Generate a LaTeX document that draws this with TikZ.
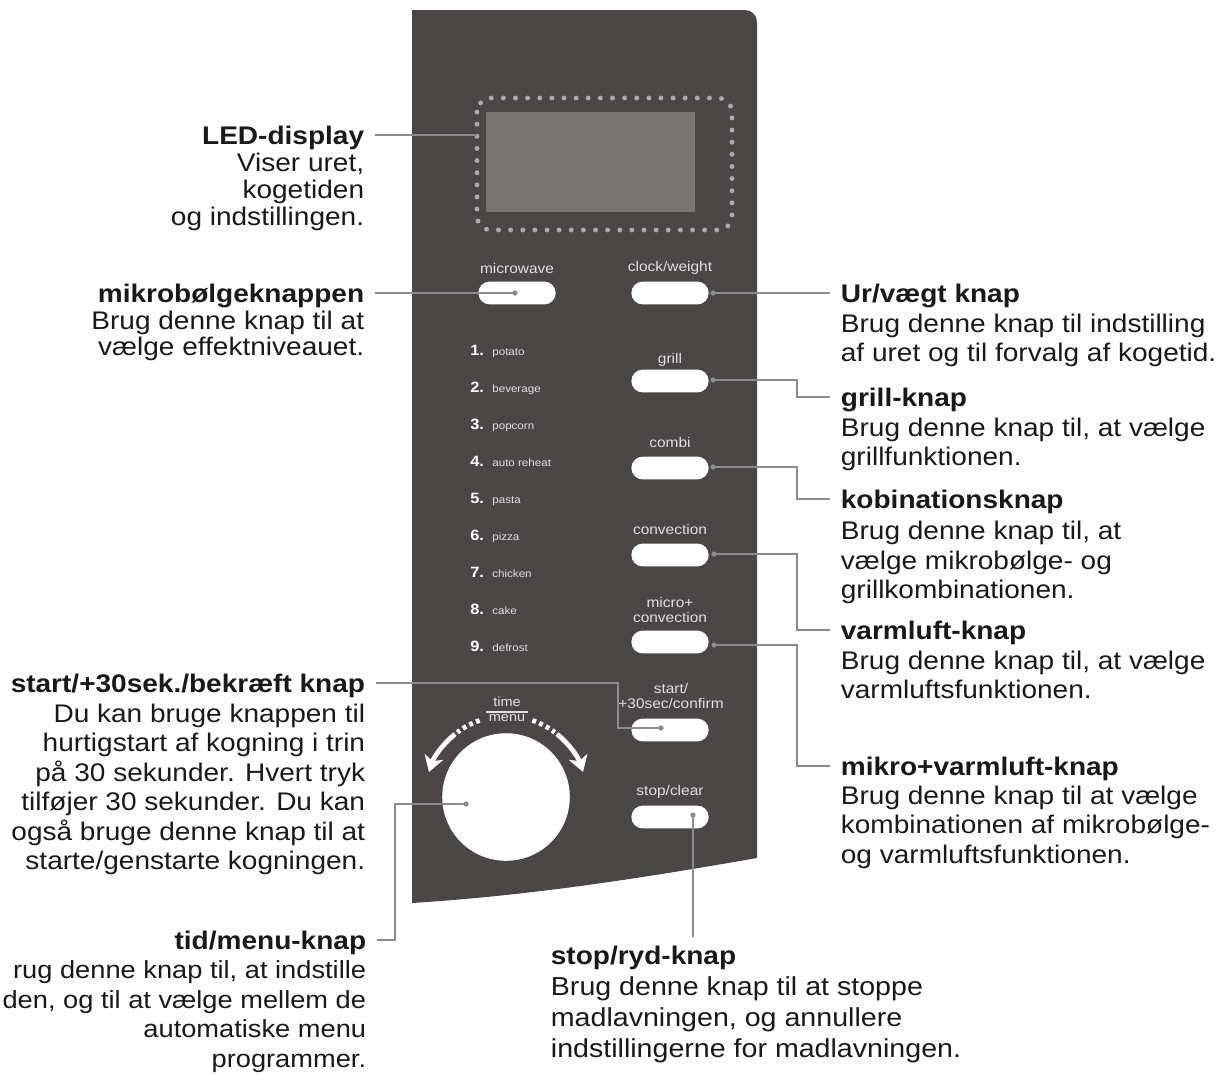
\documentclass[tikz,border=0pt]{standalone}
\usepackage{fontspec}
\setmainfont[FakeStretch=1.1]{Liberation Sans}
\usepackage{tikz}
\usetikzlibrary{positioning, arrows.meta, calc}
\definecolor{panelgraa}{RGB}{75,71,71}
\definecolor{skaermgraa}{RGB}{121,117,117}
\definecolor{prikgraa}{RGB}{172,170,170}
\definecolor{ledergraa}{RGB}{140,140,140}
\definecolor{paneltxt}{RGB}{224,224,224}
\definecolor{tekstsort}{RGB}{25,25,25}

\tikzset{
  knap/.style={fill=white, rounded corners=6.5pt, minimum width=44pt, minimum height=13pt, inner sep=0pt},
  kop/.style={font=\bfseries\fontsize{14.5}{16.8}\selectfont, text=tekstsort, inner xsep=6pt, inner ysep=5pt, text height=10.5pt, text depth=0pt},
  brod/.style={font=\fontsize{14.5}{16.8}\selectfont, text=tekstsort, inner xsep=6pt, inner ysep=0pt},
  leder/.style={draw=ledergraa, line width=0.9pt},
  pil/.style={draw=white, line width=2.7pt},
  paneltekst/.style={text=paneltxt, font=\fontsize{8}{8.2}\selectfont, inner sep=1pt, align=center},
  nummer/.style={text=white, font=\bfseries\fontsize{8.5}{9}\selectfont, inner sep=0pt},
  ret/.style={text=paneltxt, font=\fontsize{6}{7}\selectfont, inner sep=0pt},
}

\begin{document}
\begin{tikzpicture}[x=0.02cm, y=0.02cm]
	\useasboundingbox (0,0) rectangle (1220,-1073);
	\clip (0,0) rectangle (1220,-1073);

	% panel
	\fill[panelgraa] (412,-903) -- (412,-10) -- (745,-10) arc[start angle=90, end angle=0, radius=12]
		-- (757,-858) .. controls (620,-882) and (520,-896) .. (412,-903) -- cycle;

	% display
	\fill[skaermgraa] (486,-112) rectangle (695,-212);
	\draw[prikgraa, line width=2.8pt, line cap=round, dash pattern=on 0pt off 6.9pt, rounded corners=8pt]
		(477,-98) rectangle (732,-230);

	% buttons
	\node[knap] (b-micro) at (517,-293) {};
	\node[knap] (b-clock) at (670,-293) {};
	\node[knap] (b-grill) at (670,-381) {};
	\node[knap] (b-combi) at (670,-468) {};
	\node[knap] (b-conv) at (670,-555) {};
	\node[knap] (b-mconv) at (670,-642) {};
	\node[knap] (b-start) at (670,-730) {};
	\node[knap] (b-stop) at (670,-817) {};

	\node[paneltekst] (l-micro) at (517,-268) {microwave};
	\node[paneltekst] (l-clock) at (670,-268) {clock/weight};
	\node[paneltekst] (l-grill) at (670,-360) {grill};
	\node[paneltekst] (l-combi) at (670,-442) {combi};
	\node[paneltekst] (l-conv) at (670,-529) {convection};
	\node[paneltekst] (l-mconv) at (670,-610) {micro+\\convection};
	\node[paneltekst] (l-start) at (671,-696) {start/\\+30sec/confirm};
	\node[paneltekst] (l-stop) at (670,-792) {stop/clear};

	% menu list
	\foreach \nr/\ret in {1/potato, 2/beverage, 3/popcorn, 4/auto reheat, 5/pasta, 6/pizza, 7/chicken, 8/cake, 9/defrost} {
		\node[nummer, anchor=base west] (nr\nr) at (470,{-355-37*(\nr-1)}) {\nr.};
		\node[ret, anchor=base west] (ret\nr) at (492,{-355-37*(\nr-1)}) {\ret};
	}

	% dial
	\node[circle, fill=white, minimum size=72.6pt, inner sep=0pt] (dial) at (506,-797) {};
	\node[paneltekst, font=\fontsize{7.5}{8}\selectfont] (t-time) at (507,-702) {time};
	\node[paneltekst, font=\fontsize{7.5}{8}\selectfont, inner xsep=1.5pt] (t-menu) at (507,-718) {menu};
	\draw[paneltxt, line width=1pt] (t-menu.north west) -- (t-menu.north east);

	\draw[pil, dash pattern=on 2.2pt off 2pt] ($(dial)+(109:81)$) arc[start angle=109, end angle=127, radius=81];
	\draw[pil, -{Stealth[length=9pt, width=11pt, inset=2.5pt]}] ($(dial)+(129:81)$) arc[start angle=129, end angle=162, radius=81];
	\draw[pil, dash pattern=on 2.2pt off 2pt] ($(dial)+(71:81)$) arc[start angle=71, end angle=53, radius=81];
	\draw[pil, -{Stealth[length=9pt, width=11pt, inset=2.5pt]}] ($(dial)+(51:81)$) arc[start angle=51, end angle=18, radius=81];

	% connector ends
	\coordinate (d-led) at (477,-135);
	\coordinate (d-micro) at (515,-293);
	\coordinate (d-clock) at (713,-293);
	\coordinate (d-grill) at (713,-380);
	\coordinate (d-combi) at (713,-467);
	\coordinate (d-conv) at (714,-554);
	\coordinate (d-mconv) at (714,-645);
	\coordinate (d-start) at (661,-728);
	\coordinate (d-stop) at (693,-815);
	\coordinate (d-tid) at (466,-804);

	% left texts
	\node[kop, anchor=east] (led) at (375,-135) {LED-display};
	\node[brod, align=right, below=-0.3pt of led.south east, anchor=north east, font=\fontsize{14.5}{15.2}\selectfont] (led-tekst)
		{Viser uret,\\kogetiden\\og indstillingen.};
	\node[kop, anchor=east] (mikro) at (375,-293) {mikrobølgeknappen};
	\node[brod, align=right, below=-0.5pt of mikro.south east, anchor=north east, font=\fontsize{14.5}{15}\selectfont] (mikro-tekst)
		{Brug denne knap til at\\vælge effektniveauet.};
	\node[kop, anchor=east] (start) at (376,-683) {start/+30sek./bekræft knap};
	\node[brod, align=right, below=1.2pt of start.south east, anchor=north east] (start-tekst)
		{Du kan bruge knappen til\\hurtigstart af kogning i trin\\på 30 sekunder. Hvert tryk\\tilføjer 30 sekunder. Du kan\\også bruge denne knap til at\\starte/genstarte kogningen.};
	\node[kop, anchor=east] (tid) at (377,-940) {tid/menu-knap};
	\node[brod, align=right, below=1.2pt of tid.south east, anchor=north east, font=\fontsize{14.1}{16.8}\selectfont] (tid-tekst)
		{rug denne knap til, at indstille\\den, og til at vælge mellem de\\automatiske menu\\programmer.};

	% right texts
	\node[kop, anchor=west] (urvaegt) at (830,-293) {Ur/vægt knap};
	\node[brod, align=left, below=1.2pt of urvaegt.south west, anchor=north west] (urvaegt-tekst)
		{Brug denne knap til indstilling\\af uret og til forvalg af kogetid.};
	\node[kop, anchor=west] (grill) at (830,-397) {grill-knap};
	\node[brod, align=left, below=1.2pt of grill.south west, anchor=north west] (grill-tekst)
		{Brug denne knap til, at vælge\\grillfunktionen.};
	\node[kop, anchor=west] (kombi) at (830,-499) {kobinationsknap};
	\node[brod, align=left, below=2pt of kombi.south west, anchor=north west] (kombi-tekst)
		{Brug denne knap til, at\\vælge mikrobølge- og\\grillkombinationen.};
	\node[kop, anchor=west] (varm) at (830,-630) {varmluft-knap};
	\node[brod, align=left, below=1.2pt of varm.south west, anchor=north west] (varm-tekst)
		{Brug denne knap til, at vælge\\varmluftsfunktionen.};
	\node[kop, anchor=west] (mikvarm) at (830,-766) {mikro+varmluft-knap};
	\node[brod, align=left, below=0.5pt of mikvarm.south west, anchor=north west] (mikvarm-tekst)
		{Brug denne knap til at vælge\\kombinationen af mikrobølge-\\og varmluftsfunktionen.};

	% bottom text
	\node[kop, anchor=north west] (stop) at (540,-937) {stop/ryd-knap};
	\node[brod, align=left, below=1.5pt of stop.south west, anchor=north west, font=\fontsize{14.8}{17.6}\selectfont] (stop-tekst)
		{Brug denne knap til at stoppe\\madlavningen, og annullere\\indstillingerne for madlavningen.};

	% leaders
	\draw[leder] (led.east) -- (d-led);
	\draw[leder] (mikro.east) -- (d-micro);
	\draw[leder] (d-clock) -- (urvaegt.west);
	\draw[leder] (d-grill) -- ++(84,0) |- (grill.west);
	\draw[leder] (d-combi) -- ++(84,0) |- (kombi.west);
	\draw[leder] (d-conv) -- ++(83,0) |- (varm.west);
	\draw[leder] (d-mconv) -- ++(83,0) |- (mikvarm.west);
	\draw[leder] (start.east) -- ++(242,0) |- (d-start);
	\draw[leder] (d-tid) -- ++(-71,0) |- (tid.east);
	\draw[leder] (d-stop) -- (d-stop |- stop.north);

	\foreach \d in {d-micro, d-clock, d-grill, d-combi, d-conv, d-mconv, d-start, d-stop, d-tid}
		\fill[ledergraa] (\d) circle[radius=2.6];
\end{tikzpicture}
\end{document}
